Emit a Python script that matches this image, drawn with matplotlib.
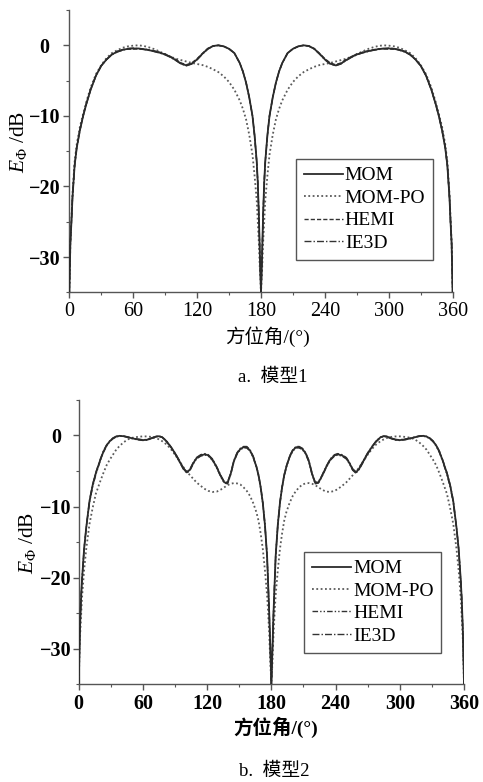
import matplotlib
matplotlib.use("Agg")
import matplotlib.pyplot as plt
from matplotlib.ticker import MultipleLocator

plt.rcParams["font.family"] = ["Liberation Serif", "Noto Sans CJK SC"]
plt.rcParams["mathtext.fontset"] = "custom"
plt.rcParams["mathtext.it"] = "Liberation Serif:italic"
plt.rcParams["mathtext.rm"] = "Liberation Serif"

# ---- model 1 (panel a) ----
ANG_A_LEFT = [0, 1, 2, 3, 5, 7, 10, 13, 16, 20,
              25, 30, 35, 40, 45, 50, 55, 60, 65, 70,
              75, 80, 85, 90, 95, 100, 105, 110, 115, 120,
              125, 130, 135, 140, 145, 150, 155, 160, 163, 166,
              169, 172, 174, 176, 177, 178, 179, 180]
ANG_A_RIGHT = [181, 182, 183, 184, 186, 188, 191, 194, 197, 200,
               205, 210, 215, 220, 225, 230, 235, 240, 245, 250,
               255, 260, 265, 270, 275, 280, 285, 290, 295, 300,
               305, 310, 315, 320, 325, 330, 335, 340, 344, 347,
               350, 353, 355, 357, 358, 359, 360]

MOM_A_LEFT = [-35, -28, -25, -21.5, -17, -14.5, -12, -10, -8.3, -6.3,
              -4.3, -2.9, -2.0, -1.3, -0.9, -0.65, -0.5, -0.45, -0.45, -0.55,
              -0.7, -0.85, -1.05, -1.3, -1.65, -2.1, -2.6, -2.85, -2.6, -2.0,
              -1.2, -0.5, -0.1, 0, -0.15, -0.5, -1.1, -2.5, -3.7, -5.3,
              -7.4, -10, -12.8, -16.5, -19.5, -24, -30, -35]
MOM_A_RIGHT = [-30, -24, -19.5, -16.5, -12.8, -10, -7.4, -5.3, -3.7, -2.5,
               -1.1, -0.5, -0.15, 0, -0.1, -0.5, -1.2, -2.0, -2.6, -2.85,
               -2.6, -2.1, -1.65, -1.3, -1.05, -0.85, -0.7, -0.55, -0.45, -0.45,
               -0.5, -0.65, -0.9, -1.3, -2.0, -2.9, -4.3, -6.3, -8.3, -10,
               -12, -14.5, -17, -21.5, -25, -28, -35]

MOMPO_A_LEFT = [-35, -28, -24.5, -21, -16.5, -14, -11.5, -9.7, -8, -6,
                -4.1, -2.8, -1.8, -1.1, -0.7, -0.35, -0.15, -0.05, 0, -0.1,
                -0.3, -0.55, -0.9, -1.25, -1.6, -1.9, -2.1, -2.3, -2.5, -2.65,
                -2.8, -3.05, -3.4, -3.8, -4.4, -5.2, -6.3, -7.8, -9, -10.5,
                -12.7, -15.5, -18.5, -22, -25, -28, -32, -35]
MOMPO_A_RIGHT = [-32, -28, -25, -22, -18.5, -15.5, -12.7, -10.5, -9, -7.8,
                 -6.3, -5.2, -4.4, -3.8, -3.4, -3.05, -2.8, -2.65, -2.5, -2.3,
                 -2.1, -1.9, -1.6, -1.25, -0.9, -0.55, -0.3, -0.1, 0, -0.05,
                 -0.15, -0.35, -0.7, -1.1, -1.8, -2.8, -4.1, -6, -8, -9.7,
                 -11.5, -14, -16.5, -21, -24.5, -28, -35]

HEMI_A_LEFT = [-35, -28, -25, -21.5, -17, -14.5, -12, -10, -8.3, -6.3,
               -4.3, -2.9, -2.0, -1.3, -0.85, -0.6, -0.55, -0.55, -0.5, -0.5,
               -0.65, -0.8, -1.0, -1.25, -1.6, -2.0, -2.5, -2.75, -2.5, -1.9,
               -1.15, -0.45, -0.1, -0.02, -0.15, -0.5, -1.1, -2.5, -3.7, -5.3,
               -7.4, -10, -12.8, -16.5, -19.5, -24, -30, -35]
HEMI_A_RIGHT = [-30, -24, -19.5, -16.5, -12.8, -10, -7.4, -5.3, -3.7, -2.5,
                -1.1, -0.5, -0.15, -0.02, -0.1, -0.45, -1.15, -1.9, -2.5, -2.75,
                -2.5, -2.0, -1.6, -1.25, -1.0, -0.8, -0.65, -0.5, -0.5, -0.55,
                -0.55, -0.6, -0.85, -1.3, -2.0, -2.9, -4.3, -6.3, -8.3, -10,
                -12, -14.5, -17, -21.5, -25, -28, -35]

IE3D_A_LEFT = [-35, -28, -25, -21.5, -17, -14.5, -12, -10, -8.3, -6.3,
               -4.3, -2.9, -2.0, -1.35, -0.95, -0.7, -0.45, -0.4, -0.5, -0.6,
               -0.7, -0.9, -1.1, -1.35, -1.7, -2.15, -2.65, -2.9, -2.65, -2.05,
               -1.25, -0.55, -0.12, 0, -0.15, -0.5, -1.1, -2.5, -3.7, -5.3,
               -7.4, -10, -12.8, -16.5, -19.5, -24, -30, -35]
IE3D_A_RIGHT = [-30, -24, -19.5, -16.5, -12.8, -10, -7.4, -5.3, -3.7, -2.5,
                -1.1, -0.5, -0.15, 0, -0.12, -0.55, -1.25, -2.05, -2.65, -2.9,
                -2.65, -2.15, -1.7, -1.35, -1.1, -0.9, -0.7, -0.6, -0.5, -0.4,
                -0.45, -0.7, -0.95, -1.35, -2.0, -2.9, -4.3, -6.3, -8.3, -10,
                -12, -14.5, -17, -21.5, -25, -28, -35]

# ---- model 2 (panel b) ----
ANG_B_LEFT = [0, 1, 2, 3, 5, 7, 10, 13, 16, 20,
              23, 26, 29, 32, 35, 38, 42, 46, 50, 55,
              60, 64, 68, 72, 75, 78, 82, 86, 90, 94,
              98, 101, 104, 107, 110, 114, 118, 121, 125, 129,
              133, 136, 139, 142, 145, 148, 151, 154, 157, 160,
              163, 166, 168, 170, 172, 174, 176, 177, 178, 179,
              180]
ANG_B_RIGHT = [181, 182, 183, 184, 186, 188, 190, 192, 194, 197,
               200, 203, 206, 209, 212, 215, 218, 221, 224, 227,
               231, 235, 239, 242, 246, 250, 253, 256, 259, 262,
               266, 270, 274, 278, 282, 285, 288, 292, 296, 300,
               305, 310, 314, 318, 322, 325, 328, 331, 334, 337,
               340, 344, 347, 350, 353, 355, 357, 358, 359, 360]

MOM_B_LEFT = [-35, -28, -23.5, -20.5, -16, -13, -9.3, -7, -5.3, -3.5,
              -2.3, -1.4, -0.8, -0.4, -0.15, -0.05, -0.1, -0.25, -0.4, -0.55,
              -0.65, -0.6, -0.4, -0.15, -0.1, -0.25, -0.8, -1.6, -2.5, -3.6,
              -4.7, -5.2, -4.8, -3.9, -3.2, -2.8, -2.65, -2.8, -3.4, -4.5,
              -5.8, -6.6, -6.7, -5.4, -3.6, -2.5, -1.9, -1.65, -1.65, -2.1,
              -3.0, -4.4, -5.6, -7.3, -9.5, -12.6, -17, -21, -25, -30,
              -35]
MOM_B_RIGHT = [-30, -25, -21, -17, -12.6, -9.5, -7.3, -5.6, -4.4, -3.0,
               -2.1, -1.65, -1.65, -1.9, -2.5, -3.6, -5.4, -6.7, -6.6, -5.8,
               -4.5, -3.4, -2.8, -2.65, -2.8, -3.2, -3.9, -4.8, -5.2, -4.7,
               -3.6, -2.5, -1.6, -0.8, -0.25, -0.1, -0.15, -0.4, -0.6, -0.65,
               -0.55, -0.4, -0.25, -0.1, -0.05, -0.15, -0.4, -0.8, -1.4, -2.3,
               -3.5, -5.3, -7, -9.3, -13, -16, -20.5, -23.5, -28, -35]

MOMPO_B_LEFT = [-35, -29, -26, -23, -19, -16, -12.5, -10.2, -8.2, -6.5,
                -5.3, -4.2, -3.4, -2.7, -2.0, -1.5, -0.95, -0.55, -0.32, -0.2,
                -0.12, -0.13, -0.2, -0.35, -0.55, -0.8, -1.25, -1.9, -2.7, -3.6,
                -4.5, -5.1, -5.6, -6.1, -6.6, -7.1, -7.55, -7.8, -7.95, -7.9,
                -7.6, -7.3, -7.0, -6.8, -6.7, -6.75, -6.9, -7.3, -7.8, -8.5,
                -9.5, -10.8, -12, -13.8, -16, -19, -22.5, -25, -28, -32,
                -35]
MOMPO_B_RIGHT = [-32, -28, -25, -22.5, -19, -16, -13.8, -12, -10.8, -9.5,
                 -8.5, -7.8, -7.3, -6.9, -6.75, -6.7, -6.8, -7.0, -7.3, -7.6,
                 -7.9, -7.95, -7.8, -7.55, -7.1, -6.6, -6.1, -5.6, -5.1, -4.5,
                 -3.6, -2.7, -1.9, -1.25, -0.8, -0.55, -0.35, -0.2, -0.13, -0.12,
                 -0.2, -0.32, -0.55, -0.95, -1.5, -2.0, -2.7, -3.4, -4.2, -5.3,
                 -6.5, -8.2, -10.2, -12.5, -16, -19, -23, -26, -29, -35]

HEMI_B_LEFT = [-35, -28, -23.5, -20.5, -16, -13, -9.5, -7.2, -5.5, -3.6,
               -2.4, -1.5, -0.85, -0.45, -0.2, -0.1, -0.12, -0.25, -0.45, -0.6,
               -0.7, -0.65, -0.45, -0.2, -0.12, -0.3, -0.85, -1.7, -2.6, -3.7,
               -4.8, -5.3, -4.9, -4.0, -3.3, -2.9, -2.75, -2.9, -3.5, -4.6,
               -5.9, -6.7, -6.8, -5.5, -3.7, -2.6, -2.0, -1.75, -1.75, -2.2,
               -3.1, -4.5, -5.7, -7.4, -9.6, -12.7, -17, -21, -25, -30,
               -35]
HEMI_B_RIGHT = [-30, -25, -21, -17, -12.7, -9.6, -7.4, -5.7, -4.5, -3.1,
                -2.2, -1.75, -1.75, -2.0, -2.6, -3.7, -5.5, -6.8, -6.7, -5.9,
                -4.6, -3.5, -2.9, -2.75, -2.9, -3.3, -4.0, -4.9, -5.3, -4.8,
                -3.7, -2.6, -1.7, -0.85, -0.3, -0.12, -0.2, -0.45, -0.65, -0.7,
                -0.6, -0.45, -0.25, -0.12, -0.1, -0.2, -0.45, -0.85, -1.5, -2.4,
                -3.6, -5.5, -7.2, -9.5, -13, -16, -20.5, -23.5, -28, -35]

IE3D_B_LEFT = [-35, -28, -23.5, -20.5, -16, -13, -9.2, -6.9, -5.2, -3.4,
               -2.2, -1.35, -0.75, -0.35, -0.12, -0.02, -0.08, -0.2, -0.38, -0.5,
               -0.6, -0.55, -0.35, -0.12, -0.08, -0.22, -0.75, -1.55, -2.45, -3.5,
               -4.6, -5.1, -4.7, -3.8, -3.1, -2.7, -2.55, -2.7, -3.3, -4.4,
               -5.7, -6.5, -6.6, -5.3, -3.5, -2.4, -1.8, -1.55, -1.55, -2.0,
               -2.9, -4.3, -5.5, -7.2, -9.4, -12.5, -17, -21, -25, -30,
               -35]
IE3D_B_RIGHT = [-30, -25, -21, -17, -12.5, -9.4, -7.2, -5.5, -4.3, -2.9,
                -2.0, -1.55, -1.55, -1.8, -2.4, -3.5, -5.3, -6.6, -6.5, -5.7,
                -4.4, -3.3, -2.7, -2.55, -2.7, -3.1, -3.8, -4.7, -5.1, -4.6,
                -3.5, -2.45, -1.55, -0.75, -0.22, -0.08, -0.12, -0.35, -0.55, -0.6,
                -0.5, -0.38, -0.2, -0.08, -0.02, -0.12, -0.35, -0.75, -1.35, -2.2,
                -3.4, -5.2, -6.9, -9.2, -13, -16, -20.5, -23.5, -28, -35]

LABELS = ["MOM", "MOM-PO", "HEMI", "IE3D"]
X_TICKS = [0, 60, 120, 180, 240, 300, 360]
Y_TICKS = [-30, -20, -10, 0]
Y_TICKLABELS = ["\u221230", "\u221220", "\u221210", "0"]

STYLES = [
    dict(color="#2b2b2b", lw=1.3, ls="-", zorder=5),
    dict(color="#5a5a5a", lw=1.3, ls=(0, (1, 1.4)), zorder=2),
    dict(color="#333333", lw=1.0, ls=(0, (3, 1.5)), zorder=3),
    dict(color="#333333", lw=1.0, ls=(0, (5, 1.5, 1, 1.5)), zorder=4),
]


def panel(ax, ang, series, xbold, ybold, ypad, anchor, hemi_style=None):
    for k, (vals, lab) in enumerate(zip(series, LABELS)):
        st = dict(STYLES[k])
        if k == 2 and hemi_style is not None:
            st["ls"] = hemi_style
        ax.plot(ang, vals, label=lab, **st)
    ax.set_xlim(0, 360)
    ax.set_ylim(-35, 5)
    for s in ("top", "right"):
        ax.spines[s].set_visible(False)
    for s in ("left", "bottom"):
        ax.spines[s].set_color("#555555")
        ax.spines[s].set_linewidth(1.0)
    ax.set_xticks(X_TICKS)
    ax.set_xticklabels([str(t) for t in X_TICKS], fontsize=14.5,
                       fontweight="bold" if xbold else "normal")
    ax.set_yticks(Y_TICKS)
    ax.set_yticklabels(Y_TICKLABELS, fontsize=14.5, ha="center",
                       fontweight="bold" if ybold else "normal")
    ax.xaxis.set_minor_locator(MultipleLocator(30))
    ax.yaxis.set_minor_locator(MultipleLocator(5))
    ax.tick_params(which="major", direction="out", length=4, width=1,
                   color="#555555")
    ax.tick_params(which="minor", direction="out", length=2.5, width=0.8,
                   color="#555555")
    ax.tick_params(axis="x", pad=3)
    ax.tick_params(axis="y", pad=ypad)
    leg = ax.legend(loc="upper left", bbox_to_anchor=anchor, borderaxespad=0,
                    fontsize=14, frameon=True, fancybox=False, framealpha=1,
                    edgecolor="#555555", handlelength=2.0, handletextpad=0.12,
                    labelspacing=0.25, borderpad=0.4)
    leg.get_frame().set_linewidth(1.0)


fig = plt.figure(figsize=(4.83, 7.82), dpi=100)
ax_a = fig.add_axes([0.1435, 0.6262, 0.7937, 0.361])
ax_b = fig.add_axes([0.163, 0.1253, 0.7977, 0.3632])

panel(ax_a, ANG_A_LEFT + ANG_A_RIGHT,
      [MOM_A_LEFT + MOM_A_RIGHT, MOMPO_A_LEFT + MOMPO_A_RIGHT,
       HEMI_A_LEFT + HEMI_A_RIGHT, IE3D_A_LEFT + IE3D_A_RIGHT],
      xbold=False, ybold=True, ypad=14, anchor=(0.591, 0.472))
panel(ax_b, ANG_B_LEFT + ANG_B_RIGHT,
      [MOM_B_LEFT + MOM_B_RIGHT, MOMPO_B_LEFT + MOMPO_B_RIGHT,
       HEMI_B_LEFT + HEMI_B_RIGHT, IE3D_B_LEFT + IE3D_B_RIGHT],
      xbold=True, ybold=True, ypad=12.5, anchor=(0.585, 0.465),
      hemi_style=(0, (4, 1.5, 1, 1.5, 1, 1.5)))

# axis titles and captions
fig.text(0.553, 0.570, "方位角/(°)", fontsize=14, ha="center", va="center")
fig.text(0.039, 0.818, r"$E_{\Phi}$ /dB", fontsize=15.5, rotation=90,
         ha="center", va="center")
fig.text(0.565, 0.518, "a.  模型1", fontsize=13.5, ha="center", va="center")

fig.text(0.571, 0.070, "方位角/(°)", fontsize=14, ha="center", va="center",
         fontweight="bold")
fig.text(0.056, 0.306, r"$E_{\Phi}$ /dB", fontsize=15.5, rotation=90,
         ha="center", va="center")
fig.text(0.567, 0.014, "b.  模型2", fontsize=13.5, ha="center", va="center")

fig.savefig("out.png", dpi=100)
